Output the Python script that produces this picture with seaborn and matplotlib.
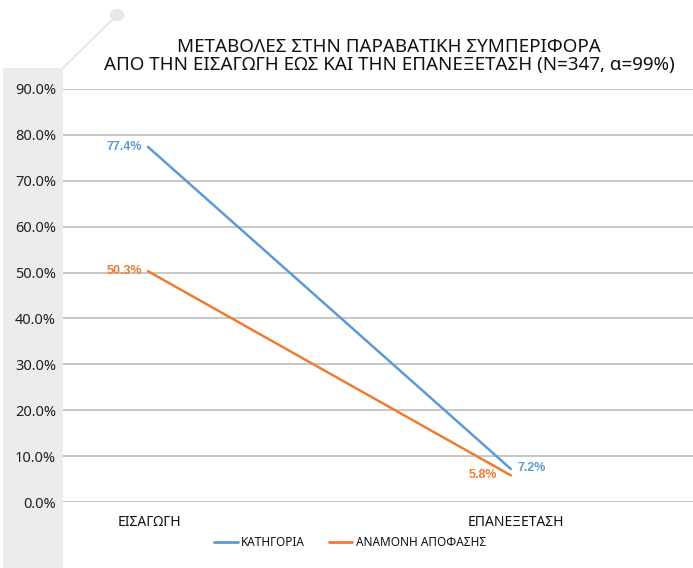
import pandas as pd
import matplotlib.pyplot as plt
import seaborn as sns
from matplotlib.patches import Circle
from matplotlib.lines import Line2D

# Data
stages = ['ΕΙΣΑΓΩΓΗ', 'ΕΠΑΝΕΞΕΤΑΣΗ']
series_names = ['ΚΑΤΗΓΟΡΙΑ', 'ΑΝΑΜΟΝΗ ΑΠΟΦΑΣΗΣ']
kategoria = [77.4, 7.2]
anamoni = [50.3, 5.8]
colors = ['#5B9BD5', '#ED7D31']

df = pd.DataFrame({
    'pos': [0, 1, 0, 1],
    'value': kategoria + anamoni,
    'series': [series_names[0]] * 2 + [series_names[1]] * 2,
})

sns.set_style('white')
plt.rcParams['font.family'] = ['Noto Sans', 'DejaVu Sans']

W, H = 693, 568
fig = plt.figure(figsize=(W / 100, H / 100), dpi=100)

# left gray band (own axes behind the chart) and the small decoration on top of it
bg = fig.add_axes([3 / W, 0, 60 / W, (H - 68) / H], zorder=-5)
bg.set_facecolor('#EBECEE')
bg.set_xticks([])
bg.set_yticks([])
for s in bg.spines.values():
    s.set_visible(False)
fig.add_artist(Line2D([63 / W, 117 / W], [(H - 68) / H, (H - 15) / H], transform=fig.transFigure,
                      color='#E6E7E9', lw=1.5))
fig.add_artist(Circle((117 / W, (H - 15) / H), 0.0095, transform=fig.transFigure,
                      color='#E6E7E9'))

ax = fig.add_axes([63 / W, (H - 502) / H, (W - 63) / W, (502 - 89) / H], zorder=1)
ax.set_facecolor('none')

sns.lineplot(data=df, x='pos', y='value', hue='series', hue_order=series_names,
             palette=colors, linewidth=1.8, ax=ax, legend=False)

ax.set_ylim(0, 90)
ax.set_yticks(range(0, 91, 10))
ax.set_yticklabels([f'{v:.1f}%' for v in range(0, 91, 10)], fontsize=10.5, color='#222222')
ax.set_xlim(-0.234, 1.502)
ax.set_xticks([0.005, 1.015])
ax.set_xticklabels(stages, fontsize=10, color='#111111')
ax.tick_params(axis='both', length=0)
ax.tick_params(axis='y', pad=5)
ax.tick_params(axis='x', pad=9)
ax.set_xlabel('')
ax.set_ylabel('')
ax.grid(axis='y', color='#BDBDBD', lw=1.2)
for s in ax.spines.values():
    s.set_visible(False)

# data labels
lab_font = ['Liberation Sans', 'DejaVu Sans']
for vals, col in [(kategoria, colors[0]), (anamoni, colors[1])]:
    ax.annotate(f'{vals[0]:.1f}%', (0, vals[0]), xytext=(-4, 0), textcoords='offset points',
                ha='right', va='center', color=col, fontsize=9, fontweight='bold', family=lab_font)
for val, col, off, ha in [(kategoria[1], colors[0], (5, 1), 'left'), (anamoni[1], colors[1], (-10, 0), 'right')]:
    ax.annotate(f'{val:.1f}%', (1, val), xytext=off, textcoords='offset points',
                ha=ha, va='center', color=col, fontsize=9, fontweight='bold', family=lab_font)

fig.text(389 / W, 1 - 56 / H, 'ΜΕΤΑΒΟΛΕΣ ΣΤΗΝ ΠΑΡΑΒΑΤΙΚΗ ΣΥΜΠΕΡΙΦΟΡΑ\n'
         'ΑΠΟ ΤΗΝ ΕΙΣΑΓΩΓΗ ΕΩΣ ΚΑΙ ΤΗΝ ΕΠΑΝΕΞΕΤΑΣΗ (Ν=347, α=99%)',
         ha='center', va='center', fontsize=13.5, color='#111111', linespacing=1.05)

handles = [Line2D([], [], color=c, lw=2) for c in colors]
fig.legend(handles, series_names, loc='center', bbox_to_anchor=(350 / W, 1 - 543 / H), ncol=2,
           frameon=False, fontsize=8.5, handlelength=2.0, handletextpad=0.3, columnspacing=2.0,
           labelcolor='#111111')

fig.savefig('out.png', dpi=100)
